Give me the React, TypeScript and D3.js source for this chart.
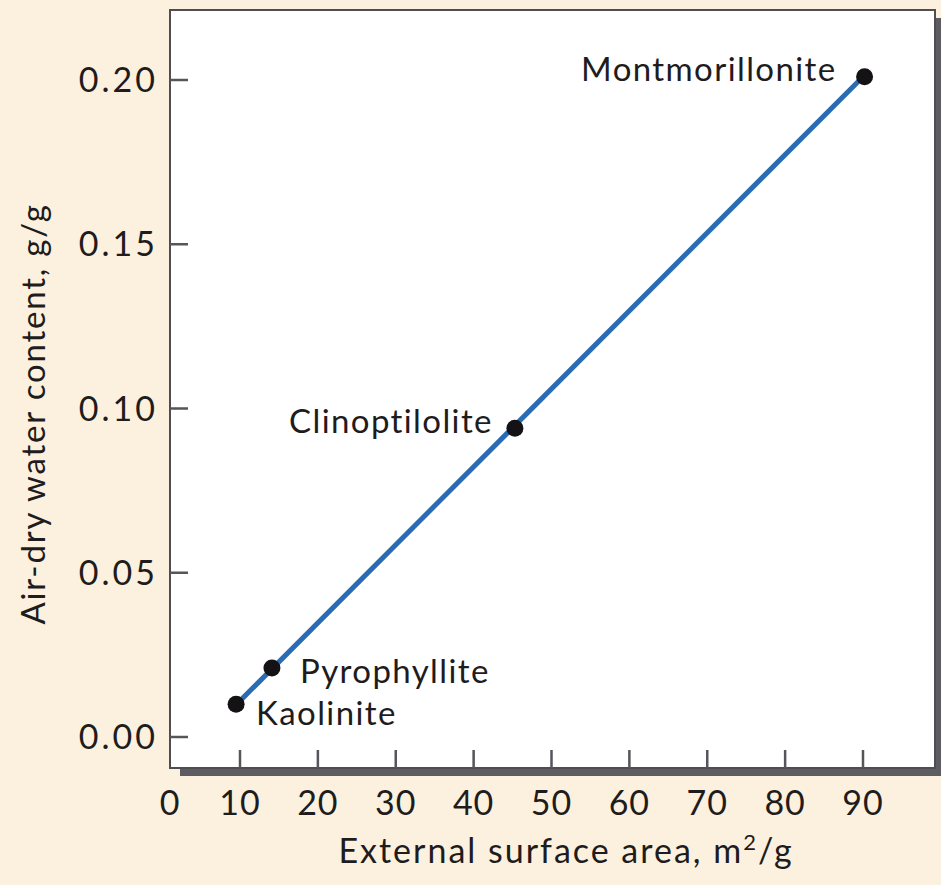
import React from "react";
import * as d3 from "d3";

// minerals and their measured values
const minerals = ["Kaolinite", "Pyrophyllite", "Clinoptilolite", "Montmorillonite"];
const surfaceArea = [9.5, 14.1, 45.3, 90.2];
const waterContent = [0.01, 0.021, 0.094, 0.201];

// fitted line end points
const fitX = [10, 90];
const fitY = [0.011, 0.201];

const xTicks = [0, 10, 20, 30, 40, 50, 60, 70, 80, 90];
const yTicks = [0, 0.05, 0.1, 0.15, 0.2];

const W = 941;
const H = 885;
const box = { left: 170, top: 10, right: 935, bottom: 768 };
const font = "Lato, 'Open Sans', sans-serif";

// label placement for each point: [dx, dy, anchor]
const labelPos: [number, number, string][] = [
  [20, 21, "start"],
  [28, 15, "start"],
  [-22, 5, "end"],
  [-28, 4, "end"],
];

export default function App() {
  const x = d3.scaleLinear().domain([10, 90]).range([240, 863]);
  const y = d3.scaleLinear().domain([0, 0.2]).range([737, 80]);

  const line = d3
    .line<number>()
    .x((d) => x(d))
    .y((d, i) => y(fitY[i]));

  return (
    <svg
      width={W}
      height={H}
      style={{ position: "absolute", left: 0, top: 0, display: "block" }}
      fontFamily={font}
    >
      <rect x={0} y={0} width={W} height={H} fill="#fcf1de" />

      {/* drop shadow of the frame */}
      <rect x={box.left + 10} y={box.top + 8} width={box.right - box.left} height={box.bottom - box.top} fill="#5d5c63" />
      <rect
        x={box.left}
        y={box.top}
        width={box.right - box.left}
        height={box.bottom - box.top}
        fill="#ffffff"
        stroke="#4e4d52"
        strokeWidth={2}
      />

      {/* y ticks */}
      {yTicks.map((t) => (
        <g key={"y" + t}>
          <line x1={box.left} x2={box.left + 18} y1={y(t)} y2={y(t)} stroke="#55555a" strokeWidth={2.5} />
          <text x={158} y={y(t)} dy="0.36em" textAnchor="end" fontSize={34} letterSpacing={3} fill="#1e1c1c">
            {d3.format(".2f")(t)}
          </text>
        </g>
      ))}

      {/* x ticks */}
      {xTicks.map((t) => (
        <g key={"x" + t}>
          {x(t) > box.left + 5 && (
            <line x1={x(t)} x2={x(t)} y1={box.bottom} y2={box.bottom - 18} stroke="#55555a" strokeWidth={2.5} />
          )}
          <text x={Math.max(x(t), box.left)} y={815} textAnchor="middle" fontSize={34} letterSpacing={1} fill="#1e1c1c">
            {t}
          </text>
        </g>
      ))}

      {/* fitted line */}
      <path d={line(fitX) || ""} fill="none" stroke="#2a6cb4" strokeWidth={5} />

      {/* points */}
      {minerals.map((m, i) => (
        <g key={m}>
          <circle cx={x(surfaceArea[i])} cy={y(waterContent[i])} r={8.5} fill="#141214" />
          <text
            x={x(surfaceArea[i]) + labelPos[i][0]}
            y={y(waterContent[i]) + labelPos[i][1]}
            textAnchor={labelPos[i][2] as any}
            fontSize={33}
            letterSpacing={1.4}
            fill="#1e1c1c"
          >
            {m}
          </text>
        </g>
      ))}

      {/* axis titles */}
      <text x={566} y={863} textAnchor="middle" fontSize={34} letterSpacing={2} fill="#1e1c1c">
        External surface area, m
        <tspan dy={-13} fontSize={22}>2</tspan>
        <tspan dy={13}>/g</tspan>
      </text>
      <text
        transform={`translate(45, 414) rotate(-90)`}
        textAnchor="middle"
        fontSize={33}
        letterSpacing={1.8}
        fill="#1e1c1c"
      >
        Air-dry water content, g/g
      </text>
    </svg>
  );
}
